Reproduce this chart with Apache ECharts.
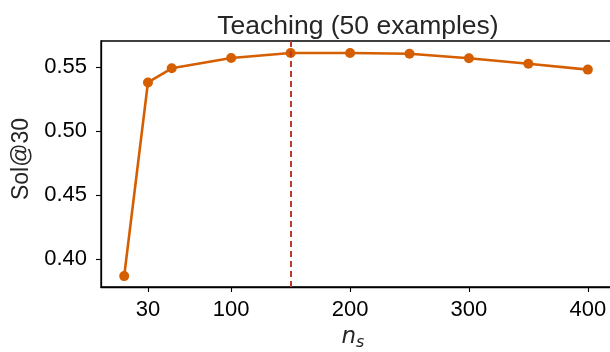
<!DOCTYPE html>
<html>
<head>
<meta charset="utf-8">
<script src="https://cdn.jsdelivr.net/npm/echarts@6/dist/echarts.min.js"></script>
<style>html,body{margin:0;padding:0;background:#fff}#c{width:610px;height:352px}</style>
</head>
<body>
<div id="c"></div>
<script>
const titleText = 'Teaching (50 examples)';
const nsValues = [10, 30, 50, 100, 150, 200, 250, 300, 350, 400];
const solValues = [0.387, 0.538, 0.549, 0.557, 0.561, 0.561, 0.5604, 0.5568, 0.5526, 0.548];
const xTicks = [30, 100, 200, 300, 400];
const yTicks = [0.40, 0.45, 0.50, 0.55];
const bestNs = 150;

const font = 'Liberation Sans, Arial, Helvetica, sans-serif';
const chart = echarts.init(document.getElementById('c'), null, {renderer: 'canvas'});
chart.setOption({
  animation: false,
  backgroundColor: '#fff',
  title: {
    text: titleText, left: 353, top: 8, textAlign: 'center',
    textStyle: {fontFamily: font, fontSize: 26.5, fontWeight: 'normal', color: '#262626'}
  },
  grid: {left: 101, top: 41, right: -1, bottom: 65, show: true, borderColor: '#000', borderWidth: 1.3,
    backgroundColor: 'transparent', containLabel: false, outerBoundsMode: 'none'},
  xAxis: {
    type: 'value', min: -9.5, max: 419.5,
    name: '{n|n}{s|s}', nameLocation: 'middle', nameGap: 36,
    nameTextStyle: {rich: {
      n: {fontFamily: 'DejaVu Sans, sans-serif', fontStyle: 'italic', fontSize: 23, color: '#262626'},
      s: {fontFamily: 'DejaVu Sans, sans-serif', fontStyle: 'italic', fontSize: 16, color: '#262626', verticalAlign: 'bottom', padding: [10, 0, 0, 0]}
    }, padding: [0, 6, 0, 0]},
    axisLine: {show: true, onZero: false, lineStyle: {color: '#000', width: 1.3}},
    axisTick: {show: true, length: 5, lineStyle: {color: '#000', width: 1.1}, customValues: xTicks},
    axisLabel: {customValues: xTicks, fontFamily: font, fontSize: 22, color: '#000', margin: 12},
    splitLine: {show: false}
  },
  yAxis: {
    type: 'value', min: 0.3785, max: 0.5703,
    name: 'Sol@30', nameLocation: 'middle', nameGap: 67,
    nameTextStyle: {fontFamily: font, fontSize: 23, color: '#262626', padding: [0, 0, 0, 10]},
    axisLine: {show: true, onZero: false, lineStyle: {color: '#000', width: 1.3}},
    axisTick: {show: true, length: 5, lineStyle: {color: '#000', width: 1.1}, customValues: yTicks},
    axisLabel: {customValues: yTicks, fontFamily: font, fontSize: 22, color: '#000', margin: 14,
      formatter: v => v.toFixed(2)},
    splitLine: {show: false}
  },
  series: [
    {
      type: 'line',
      data: nsValues.map((x, i) => [x, solValues[i]]),
      color: '#d55e00',
      lineStyle: {width: 2.6, color: '#d55e00'},
      symbol: 'circle', symbolSize: 10,
      itemStyle: {color: '#d55e00'},
      z: 2
    },
    {
      type: 'line', data: [], z: 5,
      markLine: {
        silent: true, symbol: 'none', animation: false,
        label: {show: false},
        lineStyle: {type: [6, 4], color: '#c0392b', width: 2},
        data: [{xAxis: bestNs}]
      }
    }
  ]
});
</script>
</body>
</html>
